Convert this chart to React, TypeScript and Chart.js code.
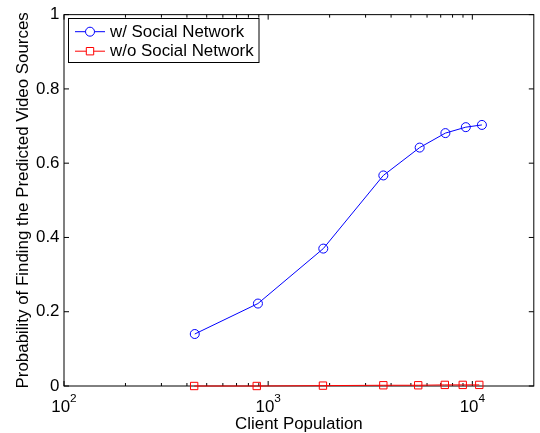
import React, { useEffect, useRef } from "react";
import { Chart, registerables } from "chart.js";

Chart.register(...registerables);

// ---- data ----
const clientsWith = [437, 891, 1862, 3665, 5521, 7379, 9290, 11140];
const probWith = [0.14, 0.222, 0.37, 0.567, 0.642, 0.681, 0.697, 0.703];
const clientsWithout = [434, 879, 1855, 3665, 5431, 7331, 8974, 10815];
const probWithout = [0, 0, 0.001, 0.002, 0.002, 0.003, 0.003, 0.003];
const seriesLabels = ["w/ Social Network", "w/o Social Network"];
const seriesColors = ["#0000ff", "#ff0000"];
const yTickValues = [0, 0.2, 0.4, 0.6, 0.8, 1];
const yTickLabels = ["0", "0.2", "0.4", "0.6", "0.8", "1"];
const xMajorValues = [100, 1000, 10000];
const xMajorBase = ["10", "10", "10"];
const xMajorExp = ["2", "3", "4"];
const xMinorValues = [200, 300, 400, 500, 600, 700, 800, 900, 2000, 3000, 4000, 5000, 6000, 7000, 8000, 9000];
const xTitle = "Client Population";
const yTitle = "Probability of Finding the Predicted Video Sources";

const FONT = '"Liberation Sans", Arial, Helvetica, sans-serif';
const FS = 16.9;

const matlabAxes = {
  id: "matlabAxes",
  beforeDatasetsDraw(chart: any) {
    const { ctx, chartArea: a, scales } = chart;
    const x = scales.x;
    const y = scales.y;
    ctx.save();
    ctx.strokeStyle = "#000";
    ctx.lineWidth = 1;
    ctx.strokeRect(a.left, a.top, a.right - a.left, a.bottom - a.top);
    const seg = (x1: number, y1: number, x2: number, y2: number) => {
      ctx.beginPath();
      ctx.moveTo(x1, y1);
      ctx.lineTo(x2, y2);
      ctx.stroke();
    };
    yTickValues.forEach((v) => {
      const py = y.getPixelForValue(v);
      seg(a.left, py, a.left + 5, py);
      seg(a.right - 5, py, a.right, py);
    });
    xMajorValues.forEach((v) => {
      const px = x.getPixelForValue(v);
      seg(px, a.bottom, px, a.bottom - 5);
      seg(px, a.top, px, a.top + 5);
    });
    xMinorValues.forEach((v) => {
      const px = x.getPixelForValue(v);
      seg(px, a.bottom, px, a.bottom - 3);
      seg(px, a.top, px, a.top + 3);
    });
    ctx.restore();
  },
  afterDatasetsDraw(chart: any) {
    const { ctx, chartArea: a, scales } = chart;
    const x = scales.x;
    ctx.save();
    ctx.fillStyle = "#000";
    // x tick labels with superscripts
    xMajorValues.forEach((v, i) => {
      const px = x.getPixelForValue(v);
      ctx.font = `${FS}px ${FONT}`;
      const w1 = ctx.measureText(xMajorBase[i]).width;
      ctx.font = `${FS * 0.7}px ${FONT}`;
      const w2 = ctx.measureText(xMajorExp[i]).width;
      const start = px - (w1 + w2) / 2;
      ctx.textAlign = "left";
      ctx.textBaseline = "alphabetic";
      ctx.font = `${FS}px ${FONT}`;
      ctx.fillText(xMajorBase[i], start, 412);
      ctx.font = `${FS * 0.7}px ${FONT}`;
      ctx.fillText(xMajorExp[i], start + w1, 401.7);
    });
    // x title
    ctx.font = `${FS}px ${FONT}`;
    ctx.textAlign = "center";
    ctx.textBaseline = "alphabetic";
    ctx.fillText(xTitle, (a.left + a.right) / 2, 429.3);
    // y title
    ctx.save();
    ctx.translate(28.3, (a.top + a.bottom) / 2);
    ctx.rotate(-Math.PI / 2);
    ctx.fillText(yTitle, 0, 0);
    ctx.restore();

    // legend
    const lx = 68.5, ly = 18.5, lw = 190.5, lh = 44;
    ctx.fillStyle = "#fff";
    ctx.fillRect(lx, ly, lw, lh);
    ctx.strokeStyle = "#000";
    ctx.lineWidth = 1;
    ctx.strokeRect(lx, ly, lw, lh);
    const rows = [31.7, 51.2];
    seriesLabels.forEach((lab, i) => {
      const ry = rows[i];
      ctx.strokeStyle = seriesColors[i];
      ctx.lineWidth = 1;
      ctx.beginPath();
      ctx.moveTo(75, ry);
      ctx.lineTo(105, ry);
      ctx.stroke();
      ctx.beginPath();
      if (i === 0) {
        ctx.arc(90, ry, 4.5, 0, Math.PI * 2);
      } else {
        ctx.rect(86.3, ry - 3.7, 7.4, 7.4);
      }
      ctx.fillStyle = "#fff";
      ctx.fill();
      ctx.stroke();
      ctx.fillStyle = "#000";
      ctx.font = `${FS}px ${FONT}`;
      ctx.textAlign = "left";
      ctx.textBaseline = "middle";
      ctx.fillText(lab, 110, ry + 0.5);
    });
    ctx.restore();
  },
};

export default function App() {
  const ref = useRef<HTMLCanvasElement | null>(null);
  useEffect(() => {
    if (!ref.current) return;
    const chart = new Chart(ref.current, {
      type: "scatter",
      data: {
        datasets: [
          {
            label: seriesLabels[0],
            data: clientsWith.map((c, i) => ({ x: c, y: probWith[i] })),
            showLine: true,
            borderColor: seriesColors[0],
            borderWidth: 1,
            pointStyle: "circle",
            pointRadius: 4.5,
            pointBorderColor: seriesColors[0],
            pointBackgroundColor: "rgba(0,0,0,0)",
            pointBorderWidth: 1,
            clip: false as any,
          },
          {
            label: seriesLabels[1],
            data: clientsWithout.map((c, i) => ({ x: c, y: probWithout[i] })),
            showLine: true,
            borderColor: seriesColors[1],
            borderWidth: 1,
            pointStyle: "rect",
            pointRadius: 5.2,
            pointBorderColor: seriesColors[1],
            pointBackgroundColor: "rgba(0,0,0,0)",
            pointBorderWidth: 1,
            clip: false as any,
          },
        ],
      },
      options: {
        animation: false,
        responsive: false,
        maintainAspectRatio: false,
        layout: { padding: { top: 13.5, right: 2, left: 0, bottom: 0 } },
        plugins: { legend: { display: false }, tooltip: { enabled: false } },
        scales: {
          x: {
            type: "logarithmic",
            min: 100,
            max: 20000,
            grid: { display: false, drawTicks: false },
            border: { display: false },
            ticks: { display: false },
            afterFit: (s: any) => {
              s.height = 47;
            },
          },
          y: {
            type: "linear",
            min: 0,
            max: 1,
            grid: { display: false, drawTicks: false },
            border: { display: false },
            ticks: {
              stepSize: 0.2,
              padding: 4.5,
              color: "#000",
              font: { family: FONT, size: FS },
              callback: (_v: any, i: number) => yTickLabels[i],
            },
            afterFit: (s: any) => {
              s.width = 64;
            },
          },
        },
      },
      plugins: [matlabAxes],
    });
    return () => chart.destroy();
  }, []);
  return (
    <div style={{ position: "fixed", left: 0, top: 0, width: 540, height: 433, background: "#fff" }}>
      <canvas ref={ref} width={540} height={433} style={{ display: "block" }} />
    </div>
  );
}
